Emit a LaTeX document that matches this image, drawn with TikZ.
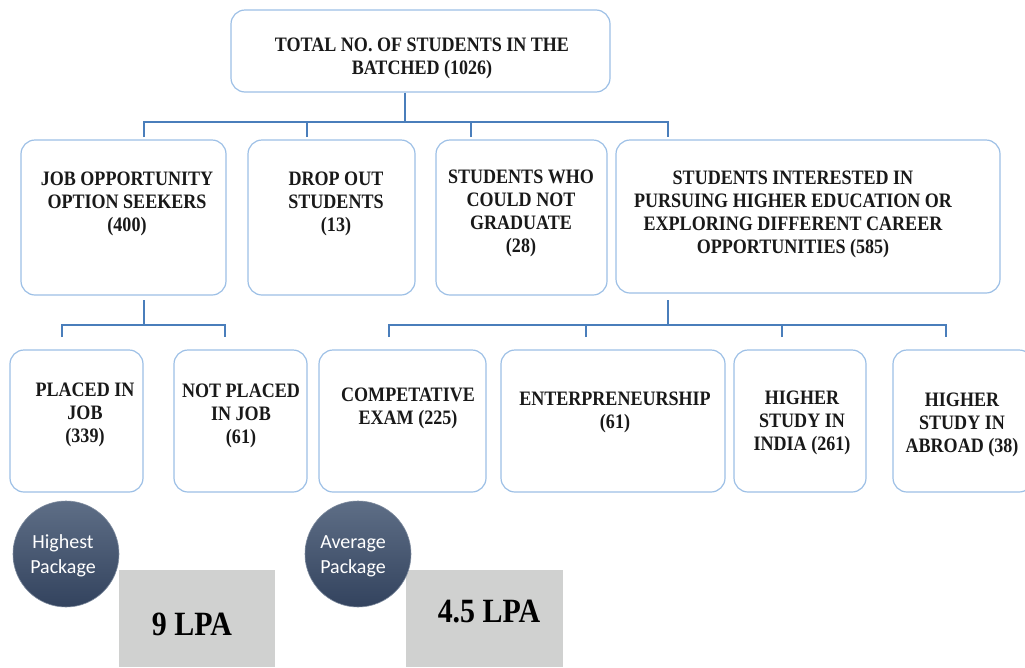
\documentclass[tikz,border=0pt]{standalone}
\usepackage{fontspec}
\setmainfont[FakeStretch=0.88]{Liberation Serif}
\newfontfamily\circfont{Carlito}
\definecolor{boxline}{HTML}{9DC0E6}
\definecolor{conn}{HTML}{4A7EBB}
\definecolor{greybox}{HTML}{D0D1D0}
\definecolor{circtop}{HTML}{5E6E86}
\definecolor{circbot}{HTML}{33435E}
\tikzset{
  rbox/.style={draw=boxline, line width=1.2pt, rounded corners=14pt, fill=white, inner sep=0pt},
  lbl/.style={font=\bfseries\fontsize{20.5}{23}\selectfont, align=center, inner sep=0pt, text=black!90},
  conline/.style={draw=conn, line width=1.8pt},
  circ/.style={circle, minimum size=106pt, inner sep=0pt, shading=axis, top color=circtop, bottom color=circbot, draw=circtop!80!white, line width=0.6pt},
  circtext/.style={text=white, font=\circfont\fontsize{20}{25}\selectfont, align=center, inner sep=0pt},
  val/.style={font=\bfseries\fontsize{34}{36}\selectfont, inner sep=0pt}
}
\begin{document}
\begin{tikzpicture}[x=1pt,y=-1pt]
\useasboundingbox (0,0) rectangle (1025,667);
% top
\node[rbox, minimum width=379pt, minimum height=82pt] (top) at (420.5,51) {};
\node[lbl] (toplbl) at (422,58) {TOTAL NO. OF STUDENTS IN THE\\BATCHED (1026)};
% row 2
\node[rbox, minimum width=205pt, minimum height=155pt] (job) at (123.5,217.5) {};
\node[rbox, minimum width=167pt, minimum height=155pt] (drop) at (331.5,217.5) {};
\node[rbox, minimum width=171pt, minimum height=155pt] (grad) at (521.5,217.5) {};
\node[rbox, minimum width=384pt, minimum height=153pt] (high) at (808,216.5) {};
\node[lbl] (joblbl) at (127,204) {JOB OPPORTUNITY\\OPTION SEEKERS\\(400)};
\node[lbl] (droplbl) at (336,204) {DROP OUT\\STUDENTS\\(13)};
\node[lbl] (gradlbl) at (521,213) {STUDENTS WHO\\COULD NOT\\GRADUATE\\(28)};
\node[lbl] (highlbl) at (793,214) {STUDENTS INTERESTED IN\\PURSUING HIGHER EDUCATION OR\\EXPLORING DIFFERENT CAREER\\OPPORTUNITIES (585)};
% row 3
\node[rbox, minimum width=133pt, minimum height=142pt] (placed) at (76.5,421) {};
\node[rbox, minimum width=133pt, minimum height=142pt] (notplaced) at (240.5,421) {};
\node[rbox, minimum width=167pt, minimum height=142pt] (comp) at (402.5,421) {};
\node[rbox, minimum width=224pt, minimum height=142pt] (ent) at (613,421) {};
\node[rbox, minimum width=132pt, minimum height=142pt] (india) at (800,421) {};
\node[rbox, minimum width=140pt, minimum height=142pt] (abroad) at (963,421) {};
\node[lbl] (placedlbl) at (85,415) {PLACED IN\\JOB\\(339)};
\node[lbl] (notplacedlbl) at (241,416) {NOT PLACED\\IN JOB\\(61)};
\node[lbl] (complbl) at (408,408) {COMPETATIVE\\EXAM (225)};
\node[lbl] (entlbl) at (615,412) {ENTERPRENEURSHIP\\(61)};
\node[lbl] (indialbl) at (802,423) {HIGHER\\STUDY IN\\INDIA (261)};
\node[lbl] (abroadlbl) at (962,425) {HIGHER\\STUDY IN\\ABROAD (38)};
% connectors level 1
\coordinate (j1) at (405,122);
\coordinate (d1) at (144,137);
\coordinate (d2) at (307,137);
\coordinate (d3) at (471,137);
\coordinate (d4) at (668,137);
\draw[conline] (top.south -| j1) -- (j1);
\draw[conline] (d1) |- (d4 |- j1) -- (d4);
\draw[conline] (d2) -- (d2 |- j1);
\draw[conline] (d3) -- (d3 |- j1);
% connectors from job
\coordinate (s1) at (144,300);
\coordinate (e1) at (62,337);
\coordinate (e2) at (225,337);
\draw[conline] (s1) -- (144,325);
\draw[conline] (e1) |- (e2 |- 0,325) -- (e2);
% connectors from high
\coordinate (s2) at (668,300);
\coordinate (f1) at (389,337);
\coordinate (f2) at (586,337);
\coordinate (f3) at (782,337);
\coordinate (f4) at (946,337);
\draw[conline] (s2) -- (668,325);
\draw[conline] (f1) |- (f4 |- 0,325) -- (f4);
\draw[conline] (f2) -- (f2 |- 0,325);
\draw[conline] (f3) -- (f3 |- 0,325);
% packages
\fill[greybox] (119,570) rectangle (275,667);
\fill[greybox] (406,570) rectangle (563,667);
\node[val] (v1) at (192,624) {9 LPA};
\node[val] (v2) at (489,612) {4.5 LPA};
\node[circ] (c1) at (66,554) {};
\node[circ] (c2) at (358,554) {};
\node[circtext] (c1t) at (63,556) {Highest\\Package};
\node[circtext] (c2t) at (353,556) {Average\\Package};
\end{tikzpicture}
\end{document}
